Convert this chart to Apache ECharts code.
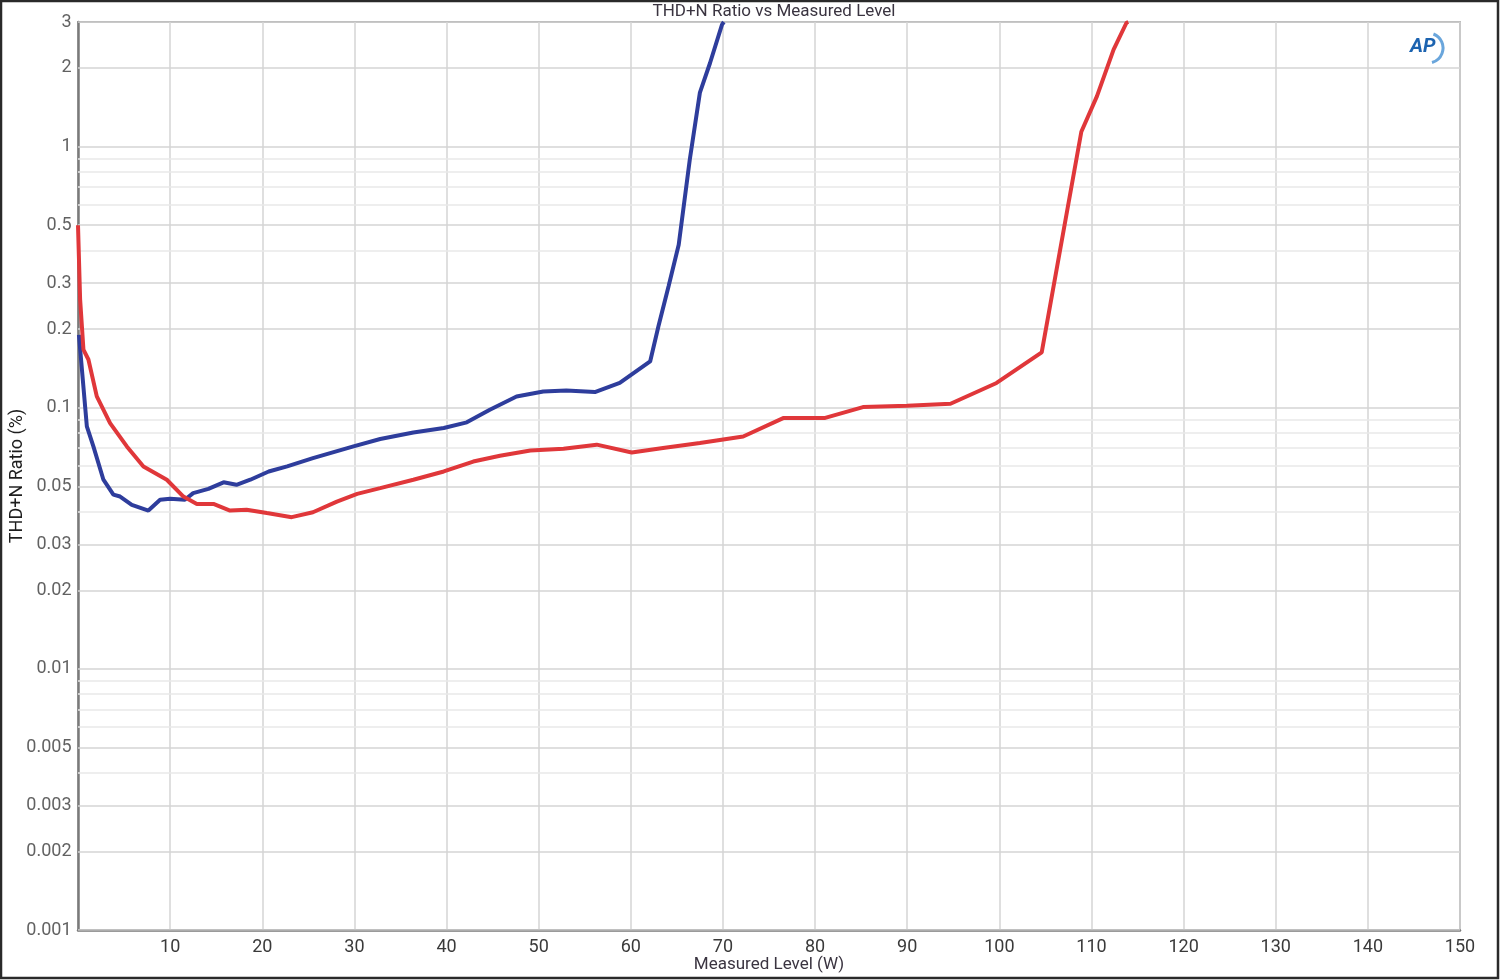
<!DOCTYPE html>
<html>
<head>
<meta charset="utf-8">
<script src="https://cdn.jsdelivr.net/npm/echarts@6/dist/echarts.min.js"></script>
<style>
html,body{margin:0;padding:0;background:#fff;}
#chart{width:1500px;height:980px;}
</style>
</head>
<body>
<div id="chart"></div>
<script>
// Blue series: [Measured Level (W), THD+N (%)]
const blueX = [0.1, 0.96, 1.67, 2.76, 3.84, 4.57, 5.84, 7.64, 8.91, 10.0, 11.6, 12.5, 14.15, 15.8, 17.2, 18.7, 20.7, 22.7, 25.5, 29.9, 32.8, 36.4, 39.7, 42.2, 44.7, 47.6, 50.5, 53.0, 56.1, 58.8, 62.1, 63.0, 64.1, 65.2, 66.4, 67.5, 68.6, 69.9, 70.1];
const blueY = [0.19, 0.0848, 0.0711, 0.053, 0.0465, 0.0457, 0.0425, 0.0404, 0.0444, 0.0448, 0.0444, 0.0471, 0.0489, 0.0518, 0.0507, 0.053, 0.057, 0.0596, 0.0641, 0.0711, 0.0759, 0.0804, 0.0836, 0.0879, 0.0983, 0.1104, 0.1154, 0.1165, 0.1148, 0.1244, 0.1504, 0.205, 0.292, 0.421, 0.891, 1.61, 2.09, 2.93, 3.0];
// Red series
const redX = [0.0, 0.23, 0.59, 1.13, 2.04, 3.48, 5.30, 7.10, 9.64, 11.44, 12.9, 14.7, 16.5, 18.3, 20.5, 23.2, 25.5, 28.1, 30.3, 32.8, 36.4, 39.7, 42.9, 45.8, 49.1, 52.7, 56.3, 60.1, 63.5, 67.5, 72.2, 76.6, 81.1, 85.2, 90.0, 94.7, 99.7, 104.6, 108.9, 110.6, 112.4, 113.8, 114.0];
const redY = [0.5, 0.26, 0.167, 0.153, 0.1105, 0.0873, 0.0711, 0.0596, 0.053, 0.0457, 0.0428, 0.0428, 0.0404, 0.0407, 0.0395, 0.0381, 0.0398, 0.0437, 0.0468, 0.0492, 0.053, 0.057, 0.0622, 0.0655, 0.0686, 0.0696, 0.0722, 0.0674, 0.0701, 0.0733, 0.0776, 0.0914, 0.0914, 0.1006, 0.1018, 0.1036, 0.1244, 0.163, 1.14, 1.56, 2.35, 2.98, 3.0];
// Y tick labels (log axis) and grid values
const yTickValues = [3, 2, 1, 0.5, 0.3, 0.2, 0.1, 0.05, 0.03, 0.02, 0.01, 0.005, 0.003, 0.002, 0.001];
const yTickLabels = ['3', '2', '1', '0.5', '0.3', '0.2', '0.1', '0.05', '0.03', '0.02', '0.01', '0.005', '0.003', '0.002', '0.001'];
const yGridMultipliers = [1, 2, 3, 4, 5, 6, 7, 8, 9];
const yGridDecades = [0.001, 0.01, 0.1, 1];
const xMin = 0, xMax = 150;

const FONT = 'Roboto, "Noto Sans", sans-serif';

const majorGrid = [], minorGrid = [];
yGridDecades.forEach(d => {
  yGridMultipliers.forEach(m => {
    const v = +(d * m).toPrecision(3);
    if (v > 3.0001) return;
    const isMajor = yTickValues.some(t => Math.abs(t - v) < 1e-9);
    (isMajor ? majorGrid : minorGrid).push({ coords: [[xMin, v], [xMax, v]] });
  });
});

const chart = echarts.init(document.getElementById('chart'));
chart.setOption({
  animation: false,
  backgroundColor: '#fff',
  title: {
    text: 'THD+N Ratio vs Measured Level',
    left: 769, top: -2, textAlign: 'center',
    textStyle: { fontFamily: FONT, fontSize: 17, fontWeight: 'normal', color: '#3a3440' }
  },
  grid: {
    left: 78, top: 22, width: 1382, height: 908,
    outerBoundsMode: 'none', containLabel: false,
    show: true, borderColor: '#8a8a8a', borderWidth: 1.5, backgroundColor: 'transparent'
  },
  xAxis: {
    type: 'value', min: xMin, max: xMax, interval: 10,
    name: 'Measured Level (W)', nameLocation: 'middle', nameGap: 26, nameMoveOverlap: false,
    nameTextStyle: { fontFamily: FONT, fontSize: 17, color: '#3a3440' },
    axisLine: { show: true, lineStyle: { color: '#7a7a7a', width: 2.5 } },
    axisTick: { show: false },
    axisLabel: {
      fontFamily: FONT, fontSize: 18, color: '#3a3a3a', margin: 8,
      formatter: v => (v === 0 ? '' : String(v))
    },
    splitLine: { show: true, lineStyle: { color: '#d4d4d4', width: 1.5 } },
    z: 0
  },
  yAxis: {
    type: 'log', logBase: 10, min: 0.001, max: 3,
    name: 'THD+N Ratio (%)', nameLocation: 'middle', nameGap: 52, nameRotate: 90,
    nameTextStyle: { fontFamily: FONT, fontSize: 18, color: '#1e1e1e' },
    axisLine: { show: true, lineStyle: { color: '#7a7a7a', width: 2.5 } },
    axisTick: { show: false },
    axisLabel: { show: false },
    splitLine: { show: false }
  },
  graphic: [
    { type: 'rect', shape: { x: 1, y: 1, width: 1497, height: 977 }, style: { fill: 'none', stroke: '#2a2a2a', lineWidth: 2.5 }, silent: true },
    { type: 'arc', shape: { cx: 1428, cy: 48, r: 15, startAngle: -1.2, endAngle: 1.3 }, style: { stroke: '#6aa6dc', lineWidth: 3, fill: 'none' }, silent: true },
    { type: 'text', left: 1410, top: 37, style: { text: 'AP', font: 'italic bold 20px ' + FONT, fill: '#1c63b0' }, silent: true }
  ],
  series: [
    {
      type: 'lines', coordinateSystem: 'cartesian2d', z: 1, silent: true, polyline: false,
      lineStyle: { color: '#e8e8e8', width: 1.5, opacity: 1 },
      data: minorGrid
    },
    {
      type: 'lines', coordinateSystem: 'cartesian2d', z: 1, silent: true, polyline: false,
      lineStyle: { color: '#d4d4d4', width: 1.5, opacity: 1 },
      data: majorGrid
    },
    {
      type: 'scatter', z: 2, silent: true, clip: false, symbol: 'circle', symbolSize: 1,
      itemStyle: { color: 'rgba(0,0,0,0)' },
      label: {
        show: true, position: 'left', distance: 6,
        fontFamily: FONT, fontSize: 18, color: '#3a3a3a',
        formatter: p => yTickLabels[p.dataIndex]
      },
      data: yTickValues.map(v => [xMin, v])
    },
    {
      name: 'Blue', type: 'line', z: 3, showSymbol: false, smooth: false, clip: true,
      lineStyle: { color: '#2e3d9c', width: 4 },
      data: blueX.map((x, i) => [x, blueY[i]])
    },
    {
      name: 'Red', type: 'line', z: 3, showSymbol: false, smooth: false, clip: true,
      lineStyle: { color: '#e0373a', width: 4 },
      data: redX.map((x, i) => [x, redY[i]])
    }
  ]
});
</script>
</body>
</html>
